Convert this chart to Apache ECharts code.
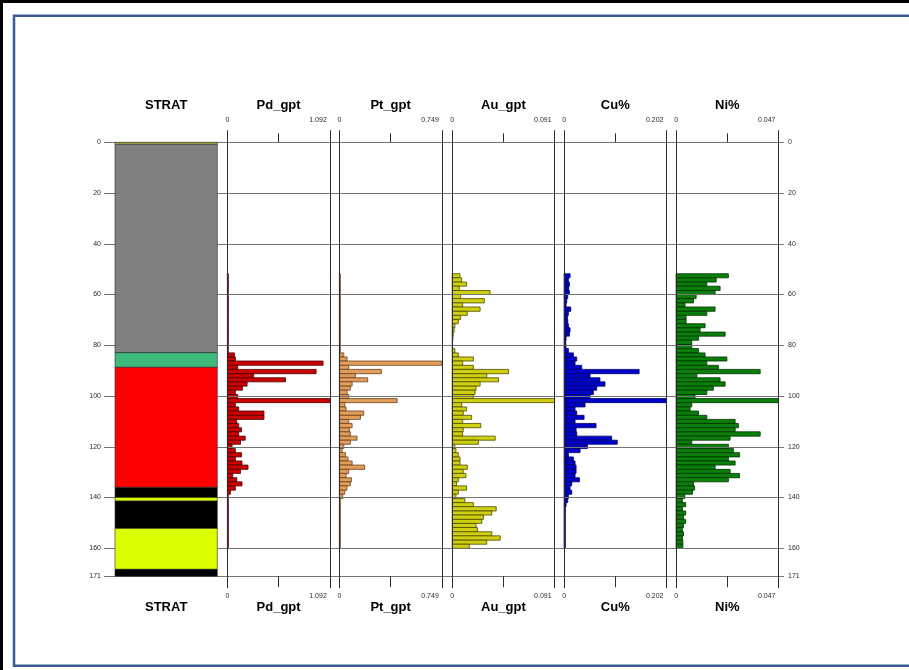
<!DOCTYPE html>
<html>
<head>
<meta charset="utf-8">
<script src="https://cdn.jsdelivr.net/npm/echarts@6/dist/echarts.min.js"></script>
<style>
  html, body { margin: 0; padding: 0; background: #ffffff; }
  #chart { width: 909px; height: 670px; }
</style>
</head>
<body>
<div id="chart"></div>
<script>
// ---------------- Hole data ----------------
// Depth tick labels (m)
const depthMax = 171;
const depthStep = 20;

// Stratigraphic log intervals (m)
const stratFrom = [0.0, 0.8, 82.9, 88.7, 136.0, 140.0, 141.4, 152.2, 168.3];
const stratTo   = [0.8, 82.9, 88.7, 136.0, 140.0, 141.4, 152.2, 168.3, 171.0];
const stratUnit = ['S0', 'S1', 'S2', 'S3', 'S4', 'S5', 'S4', 'S5', 'S4'];

// Assay sample tops (m); each sample runs to the next top, the last one to sampleBottom
const sampleFrom = [
  51.8, 53.4, 55.1, 56.7, 58.4, 60.0, 61.6, 63.3, 64.9, 66.6,
  68.2, 69.8, 71.5, 73.1, 74.8, 76.4, 78.0, 79.7, 81.3, 83.0,
  84.6, 86.2, 87.9, 89.5, 91.2, 92.8, 94.4, 96.1, 97.7, 99.4,
  101.0, 102.6, 104.3, 105.9, 107.6, 109.2, 110.8, 112.5, 114.1, 115.8,
  117.4, 119.0, 120.7, 122.3, 124.0, 125.6, 127.2, 128.9, 130.5, 132.2,
  133.8, 135.4, 137.1, 138.7, 140.4, 142.0, 143.6, 145.3, 146.9, 148.6,
  150.2, 151.8, 153.5, 155.1, 156.8, 158.4
];
const sampleBottom = 160.0;

// Column titles and scale maxima
const columnTitles = ['Pd_gpt', 'Pt_gpt', 'Au_gpt', 'Cu%', 'Ni%'];
const columnMax = [1.092, 0.749, 0.091, 0.202, 0.047];

const pdGpt = [
  0.010, 0.010, 0.010, 0.010, 0.010, 0.010, 0.010, 0.010, 0.010, 0.010,
  0.010, 0.010, 0.010, 0.010, 0.010, 0.010, 0.010, 0.010, 0.010, 0.075,
  0.085, 1.020, 0.110, 0.946, 0.280, 0.620, 0.210, 0.160, 0.085, 0.110,
  1.092, 0.085, 0.120, 0.390, 0.390, 0.100, 0.120, 0.150, 0.120, 0.190,
  0.140, 0.050, 0.085, 0.150, 0.085, 0.156, 0.220, 0.140, 0.057, 0.100,
  0.156, 0.085, 0.032, 0.010, 0.010, 0.010, 0.010, 0.010, 0.010, 0.010,
  0.010, 0.010, 0.010, 0.010, 0.010, 0.010
];
const ptGpt = [
  0.007, 0.007, 0.007, 0.007, 0.007, 0.007, 0.007, 0.007, 0.007, 0.007,
  0.007, 0.007, 0.007, 0.007, 0.007, 0.007, 0.007, 0.007, 0.007, 0.032,
  0.056, 0.749, 0.068, 0.307, 0.117, 0.207, 0.093, 0.080, 0.056, 0.068,
  0.422, 0.039, 0.049, 0.178, 0.154, 0.068, 0.093, 0.073, 0.080, 0.129,
  0.080, 0.032, 0.020, 0.044, 0.063, 0.093, 0.185, 0.068, 0.049, 0.088,
  0.080, 0.056, 0.039, 0.024, 0.007, 0.007, 0.007, 0.007, 0.007, 0.007,
  0.007, 0.007, 0.007, 0.007, 0.007, 0.007
];
const auGpt = [
  0.0069, 0.0084, 0.0128, 0.0063, 0.0337, 0.0075, 0.0286, 0.0093, 0.0248, 0.0134,
  0.0075, 0.0054, 0.0024, 0.0018, 0.0009, 0.0006, 0.0003, 0.0003, 0.0024, 0.0054,
  0.0188, 0.0093, 0.0188, 0.0501, 0.0307, 0.0412, 0.0248, 0.0212, 0.0203, 0.0188,
  0.0910, 0.0084, 0.0128, 0.0098, 0.0173, 0.0093, 0.0254, 0.0098, 0.0092, 0.0382,
  0.0233, 0.0024, 0.0033, 0.0054, 0.0069, 0.0069, 0.0134, 0.0098, 0.0122, 0.0054,
  0.0039, 0.0128, 0.0054, 0.0033, 0.0113, 0.0188, 0.0391, 0.0352, 0.0277, 0.0263,
  0.0212, 0.0224, 0.0352, 0.0427, 0.0307, 0.0152
];
const cuPct = [
  0.0118, 0.0085, 0.0105, 0.0092, 0.0105, 0.0072, 0.0052, 0.0039, 0.0131, 0.0085,
  0.0066, 0.0072, 0.0085, 0.0118, 0.0105, 0.0039, 0.0033, 0.0039, 0.0085, 0.0184,
  0.0249, 0.0216, 0.0348, 0.1480, 0.0512, 0.0708, 0.0807, 0.0643, 0.0577, 0.0512,
  0.2020, 0.0413, 0.0216, 0.0249, 0.0394, 0.0216, 0.0630, 0.0236, 0.0249, 0.0938,
  0.1049, 0.0459, 0.0315, 0.0085, 0.0184, 0.0216, 0.0236, 0.0236, 0.0216, 0.0302,
  0.0151, 0.0118, 0.0151, 0.0085, 0.0072, 0.0039, 0.0026, 0.0025, 0.0025, 0.0025,
  0.0025, 0.0025, 0.0025, 0.0025, 0.0025, 0.0025
];
const niPct = [
  0.0240, 0.0184, 0.0141, 0.0202, 0.0179, 0.0092, 0.0080, 0.0041, 0.0179, 0.0141,
  0.0046, 0.0046, 0.0133, 0.0110, 0.0225, 0.0103, 0.0072, 0.0072, 0.0103, 0.0133,
  0.0233, 0.0141, 0.0194, 0.0386, 0.0095, 0.0202, 0.0225, 0.0171, 0.0141, 0.0087,
  0.0470, 0.0072, 0.0064, 0.0103, 0.0141, 0.0271, 0.0286, 0.0271, 0.0386, 0.0248,
  0.0072, 0.0240, 0.0263, 0.0291, 0.0240, 0.0271, 0.0179, 0.0248, 0.0291, 0.0240,
  0.0080, 0.0085, 0.0075, 0.0040, 0.0029, 0.0044, 0.0029, 0.0044, 0.0034, 0.0044,
  0.0034, 0.0029, 0.0034, 0.0029, 0.0031, 0.0031
];

// ---------------- Layout and styling ----------------
const plotTop = 142.3;
const plotHeight = 433.9;
const frameLeft = 104;
const frameRight = 784;
const stratLeft = 115;
const stratWidth = 102.3;
const colLeft = [227.4, 339.4, 452.2, 564.1, 676.1];
const colWidth = 102.4;
const axisColor = '#2a2a2a';
const gridColor = '#747474';
const textFont = 'Liberation Sans, Arial, sans-serif';

const stratColors = {
  S0: '#b5b54a', S1: '#808080', S2: '#3dba7c', S3: '#ff0000', S4: '#000000', S5: '#dcff00'
};
const seriesStyles = [
  { color: '#cc0000', borderColor: '#4a0000' },
  { color: '#e39d5b', borderColor: '#6a4020' },
  { color: '#d0d010', borderColor: '#4a4a00' },
  { color: '#0000cc', borderColor: '#000060' },
  { color: '#0a800a', borderColor: '#003000' }
];
const seriesValues = [pdGpt, ptGpt, auGpt, cuPct, niPct];

const sampleTo = sampleFrom.map((f, i) => (i + 1 < sampleFrom.length ? sampleFrom[i + 1] : sampleBottom));

// ---------------- Grids and axes ----------------
const grids = [
  { left: frameLeft, top: plotTop, width: frameRight - frameLeft, height: plotHeight },
  { left: stratLeft, top: plotTop, width: stratWidth, height: plotHeight }
];
colLeft.forEach(l => grids.push({ left: l, top: plotTop, width: colWidth, height: plotHeight }));

const hiddenDepthAxis = (g) => ({
  gridIndex: g, type: 'value', inverse: true, min: 0, max: depthMax, show: false
});

const yAxes = [
  {
    gridIndex: 0, type: 'value', inverse: true, min: 0, max: depthMax, interval: depthStep,
    position: 'left', z: 3,
    axisLine: { show: false }, axisTick: { show: false },
    axisLabel: { fontSize: 7, color: axisColor, margin: 3, fontFamily: textFont },
    splitLine: { show: true, lineStyle: { color: gridColor, width: 1 } }
  },
  {
    gridIndex: 0, type: 'value', inverse: true, min: 0, max: depthMax, interval: depthStep,
    position: 'right', z: 3,
    axisLine: { show: false }, axisTick: { show: false },
    axisLabel: { fontSize: 7, color: axisColor, margin: 4, fontFamily: textFont },
    splitLine: { show: false }
  },
  hiddenDepthAxis(1)
];
const xAxes = [
  { gridIndex: 0, type: 'value', min: 0, max: 1, show: false },
  { gridIndex: 1, type: 'value', min: 0, max: 1, show: false }
];

columnMax.forEach((m, i) => {
  const g = i + 2;
  yAxes.push(hiddenDepthAxis(g));
  const label = (margin) => ({
    fontSize: 7, color: axisColor, margin: margin, fontFamily: textFont,
    alignMaxLabel: 'right',
    formatter: v => (v === 0 ? '0' : '{m|' + String(m) + '}'),
    rich: { m: { fontSize: 7, color: axisColor, padding: [0, 3, 0, 0], fontFamily: textFont } }
  });
  xAxes.push({
    gridIndex: g, type: 'value', position: 'top', min: 0, max: m, interval: m, z: 4,
    axisLine: { show: false },
    axisTick: { show: true, length: 12, lineStyle: { color: axisColor, width: 1 } },
    minorTick: { show: true, splitNumber: 2, length: 9, lineStyle: { color: axisColor, width: 1 } },
    splitLine: { show: true, lineStyle: { color: axisColor, width: 1 } },
    axisLabel: label(19)
  });
  xAxes.push({
    gridIndex: g, type: 'value', position: 'bottom', min: 0, max: m, interval: m, z: 4,
    axisLine: { show: false },
    axisTick: { show: true, length: 12, lineStyle: { color: axisColor, width: 1 } },
    minorTick: { show: true, splitNumber: 2, length: 11, lineStyle: { color: axisColor, width: 1 } },
    splitLine: { show: false },
    axisLabel: label(16)
  });
});

// ---------------- Series ----------------
function intervalBar(params, api) {
  const top = api.value(0), bottom = api.value(1), v = api.value(2);
  const p0 = api.coord([0, top]);
  const p1 = api.coord([v, bottom]);
  return {
    type: 'rect',
    shape: { x: p0[0], y: p0[1], width: p1[0] - p0[0], height: p1[1] - p0[1] },
    style: api.style()
  };
}

const series = [
  {
    type: 'custom', name: 'STRAT', xAxisIndex: 1, yAxisIndex: 2, z: 5,
    data: stratFrom.map((f, i) => [f, stratTo[i], i]),
    encode: { x: 2, y: [0, 1] },
    renderItem: (params, api) => {
      const idx = api.value(2);
      const p0 = api.coord([0, api.value(0)]);
      const p1 = api.coord([1, api.value(1)]);
      return {
        type: 'rect',
        shape: { x: p0[0], y: p0[1], width: p1[0] - p0[0], height: p1[1] - p0[1] },
        style: { fill: stratColors[stratUnit[idx]], stroke: '#2a2a2a', lineWidth: 0.6 }
      };
    }
  }
];
seriesValues.forEach((vals, i) => {
  series.push({
    type: 'custom', name: columnTitles[i],
    xAxisIndex: 2 + i * 2, yAxisIndex: 3 + i, z: 2,
    data: sampleFrom.map((f, k) => [f, sampleTo[k], vals[k]]),
    encode: { x: 2, y: [0, 1] },
    itemStyle: { color: seriesStyles[i].color, borderColor: seriesStyles[i].borderColor, borderWidth: 0.8 },
    renderItem: intervalBar
  });
});

// ---------------- Headings and frame ----------------
const titleCenters = [stratLeft + stratWidth / 2].concat(colLeft.map(l => l + colWidth / 2));
const titleTexts = ['STRAT'].concat(columnTitles);
const graphic = [
  { type: 'rect', silent: true, shape: { x: 0, y: 0, width: 909, height: 3 }, style: { fill: '#000000' } },
  { type: 'rect', silent: true, shape: { x: 0, y: 0, width: 3, height: 670 }, style: { fill: '#000000' } },
  { type: 'rect', silent: true, shape: { x: 14, y: 15.7, width: 1000, height: 650 },
    style: { fill: 'none', stroke: '#3a5a98', lineWidth: 2.5 } }
];
titleTexts.forEach((t, i) => {
  [105.7, 607.5].forEach(y => {
    graphic.push({
      type: 'text', silent: true, x: titleCenters[i], y: y,
      style: {
        text: t, fill: '#000000', font: 'bold 13px ' + textFont,
        textAlign: 'center', textVerticalAlign: 'middle'
      }
    });
  });
});

const chart = echarts.init(document.getElementById('chart'), null, { renderer: 'canvas' });
chart.setOption({
  animation: false,
  backgroundColor: '#ffffff',
  grid: grids,
  xAxis: xAxes,
  yAxis: yAxes,
  series: series,
  graphic: graphic
});
</script>
</body>
</html>
